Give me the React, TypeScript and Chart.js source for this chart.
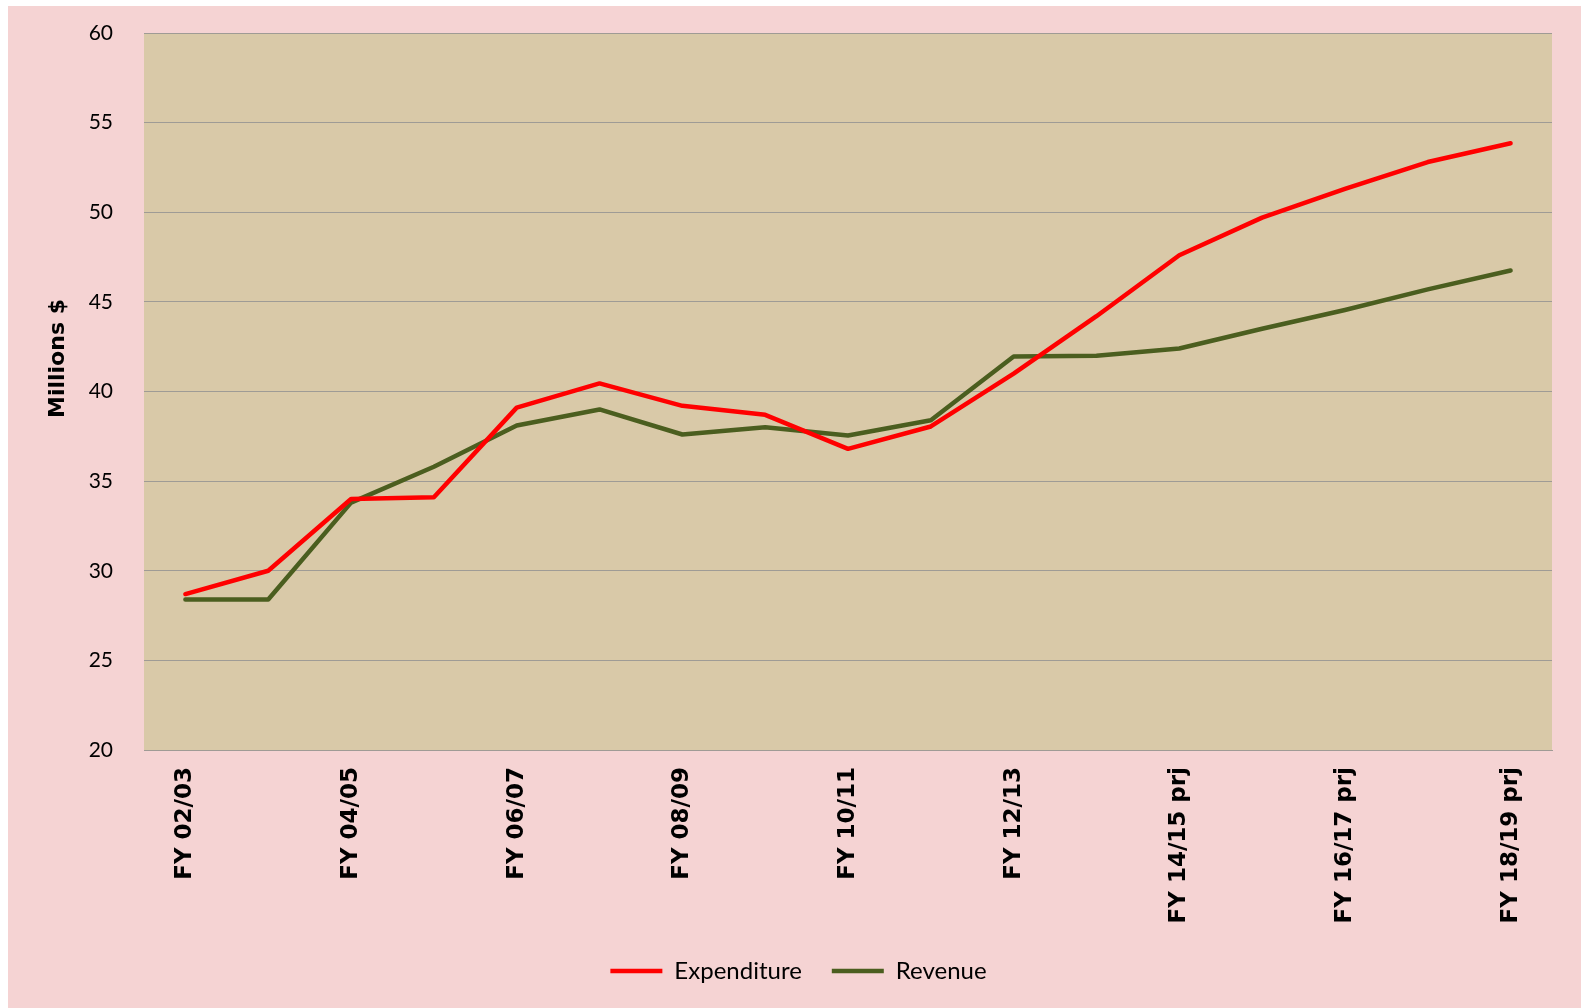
import React, { useEffect, useRef } from 'react';
import { Chart, registerables } from 'chart.js';

Chart.register(...registerables);

const categories = [
  'FY 02/03', 'FY 03/04', 'FY 04/05', 'FY 05/06', 'FY 06/07', 'FY 07/08',
  'FY 08/09', 'FY 09/10', 'FY 10/11', 'FY 11/12', 'FY 12/13', 'FY 13/14 prj',
  'FY 14/15 prj', 'FY 15/16 prj', 'FY 16/17 prj', 'FY 17/18 prj', 'FY 18/19 prj',
];

const expenditure = [
  28.7, 30.0, 34.0, 34.1, 39.1, 40.45, 39.2, 38.7, 36.8, 38.05, 41.0, 44.2,
  47.6, 49.7, 51.3, 52.8, 53.85,
];

const revenue = [
  28.4, 28.4, 33.8, 35.8, 38.1, 39.0, 37.6, 38.0, 37.55, 38.4, 41.95, 42.0,
  42.4, 43.5, 44.55, 45.7, 46.75,
];

const seriesNames = ['Expenditure', 'Revenue'];
const yTitle = 'Millions $';
const yMin = 20;
const yMax = 60;
const yStep = 5;

const PINK = '#F5D3D3';
const TAN = '#D9C9A8';
const GRID = '#9F9B95';
const RED = '#FF0000';
const GREEN = '#4B5E1F';

const plotBgPlugin = {
  id: 'plotBg',
  beforeDraw(chart: any) {
    const { ctx, chartArea } = chart;
    ctx.save();
    ctx.fillStyle = TAN;
    ctx.fillRect(chartArea.left, chartArea.top, chartArea.right - chartArea.left, chartArea.bottom - chartArea.top);
    ctx.restore();
  },
};

const yTitlePlugin = {
  id: 'yTitleCustom',
  afterDraw(chart: any) {
    const { ctx, chartArea } = chart;
    ctx.save();
    ctx.translate(chartArea.left - 86, (chartArea.top + chartArea.bottom) / 2 - 33);
    ctx.rotate(-Math.PI / 2);
    ctx.font = 'bold 22px "DejaVu Sans"';
    ctx.fillStyle = '#000';
    ctx.textAlign = 'center';
    ctx.textBaseline = 'middle';
    ctx.fillText(yTitle, 0, 0);
    ctx.restore();
  },
};

export default function App() {
  const canvasRef = useRef<HTMLCanvasElement | null>(null);

  useEffect(() => {
    const canvas = canvasRef.current;
    if (!canvas) return;
    const chart = new Chart(canvas, {
      type: 'line',
      data: {
        labels: categories,
        datasets: [
          {
            label: seriesNames[0],
            data: expenditure,
            borderColor: RED,
            backgroundColor: RED,
            borderWidth: 4.5,
            pointRadius: 0,
            pointHoverRadius: 0,
            tension: 0,
            borderCapStyle: 'round',
            borderJoinStyle: 'round',
            pointStyle: 'line',
          },
          {
            label: seriesNames[1],
            data: revenue,
            borderColor: GREEN,
            backgroundColor: GREEN,
            borderWidth: 4.5,
            pointRadius: 0,
            pointHoverRadius: 0,
            tension: 0,
            borderCapStyle: 'round',
            borderJoinStyle: 'round',
            pointStyle: 'line',
          },
        ],
      },
      options: {
        animation: false,
        responsive: false,
        devicePixelRatio: 1,
        layout: { padding: { left: 37, right: 29, top: 27, bottom: 15 } },
        plugins: {
          legend: {
            display: true,
            position: 'bottom',
            labels: {
              usePointStyle: true,
              pointStyle: 'line',
              pointStyleWidth: 52,
              boxWidth: 52,
              boxHeight: 24,
              padding: 30,
              color: '#000',
              font: { family: 'Lato', size: 24 },
            },
          },
          tooltip: { enabled: false },
        },
        scales: {
          x: {
            offset: true,
            grid: { display: false, drawTicks: false },
            border: { display: true, color: GRID, width: 1 },
            ticks: {
              autoSkip: false,
              maxRotation: 90,
              minRotation: 90,
              padding: 17,
              color: '#000',
              font: { family: 'DejaVu Sans', size: 23, weight: 'bold' },
              callback: (_v: any, i: number) => (i % 2 === 0 ? categories[i] : ''),
            },
            afterFit: (scale: any) => {
              scale.height = 179;
            },
          },
          y: {
            min: yMin,
            max: yMax,
            grid: {
              color: GRID,
              lineWidth: 1,
              drawTicks: true,
              tickLength: 31,
              tickColor: 'rgba(0,0,0,0)',
            },
            border: { display: false },
            ticks: {
              stepSize: yStep,
              padding: 0,
              color: '#000',
              font: { family: 'Lato', size: 21 },
            },
            afterFit: (scale: any) => {
              scale.width = 99;
            },
          },
        },
      },
      plugins: [plotBgPlugin, yTitlePlugin],
    } as any);
    return () => chart.destroy();
  }, []);

  return (
    <div style={{ position: 'absolute', left: 8, top: 6, width: 1573, height: 1002, background: PINK }}>
      <canvas ref={canvasRef} width={1573} height={1002} style={{ display: 'block' }} />
    </div>
  );
}
